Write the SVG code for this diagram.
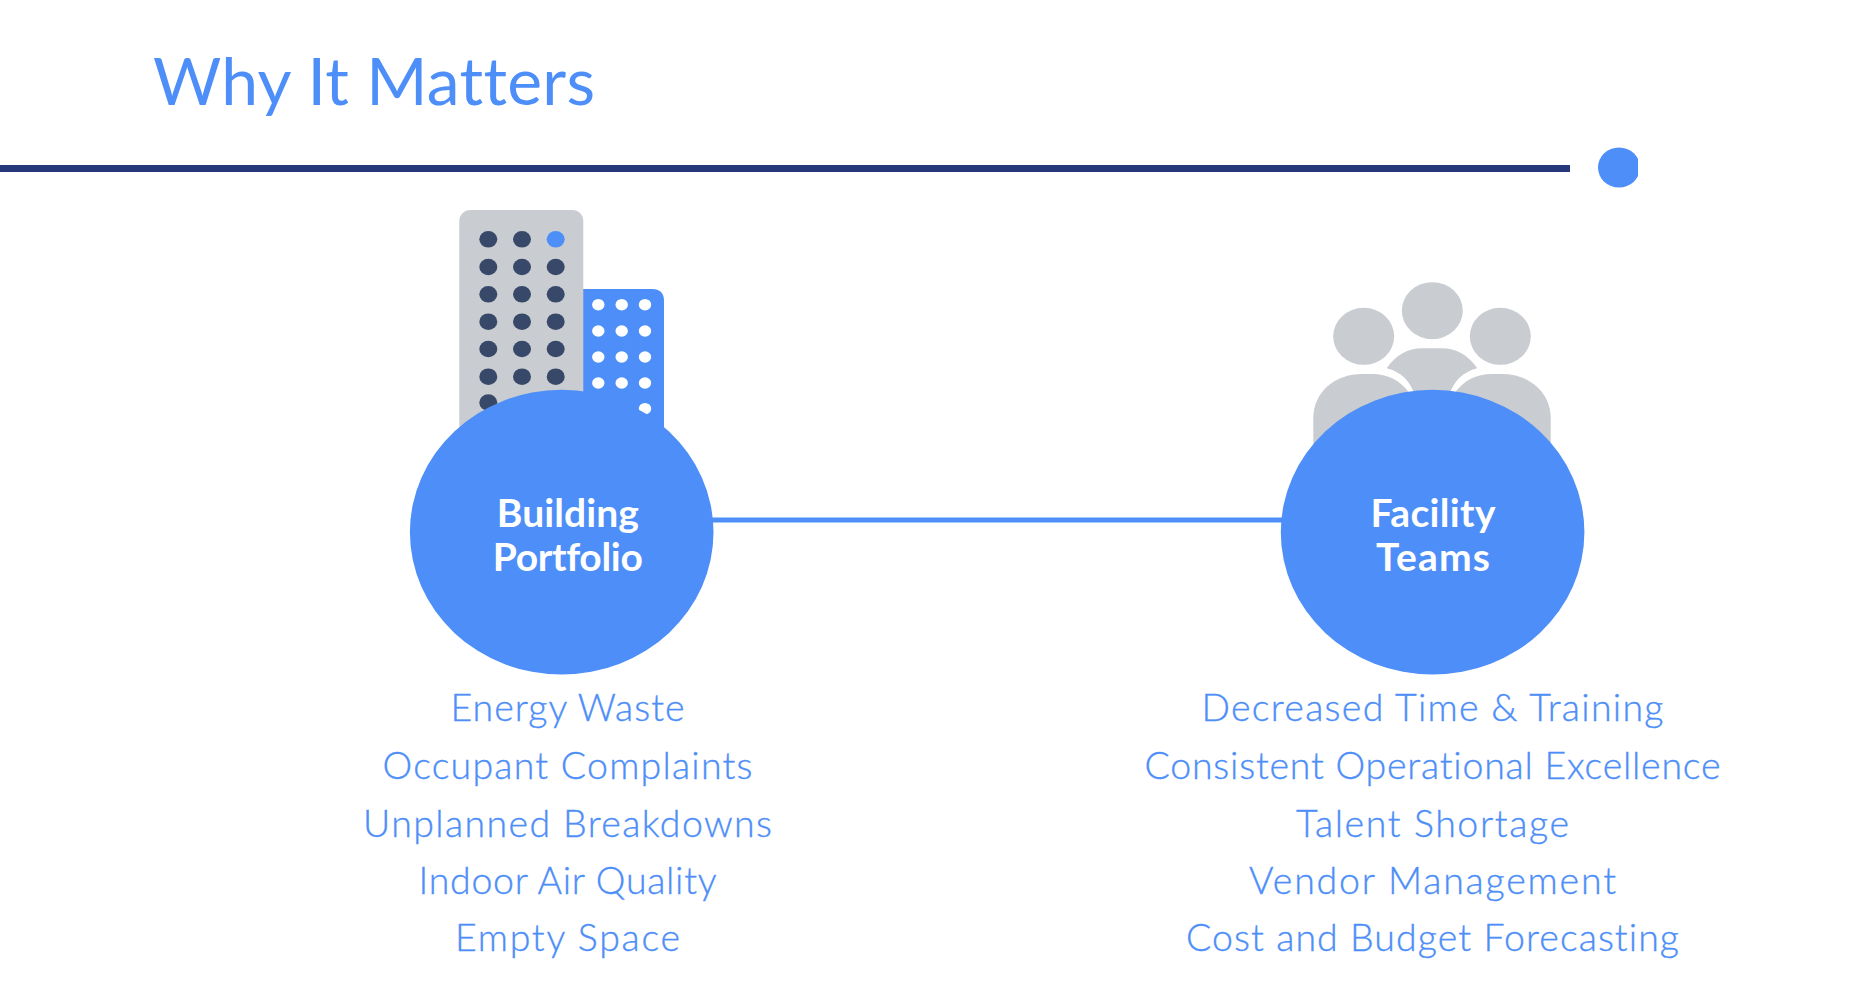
<svg xmlns="http://www.w3.org/2000/svg" width="1863" height="983" viewBox="0 0 1863 983">
<defs>
<clipPath id="dotclip"><rect x="1590" y="140" width="48" height="55"/></clipPath>
</defs>
<style>
.t{font-family:"Lato","Liberation Sans",sans-serif;fill:#4d8ef8;font-variant-ligatures:none}
.title{font-size:66px;font-weight:400}
.item{font-size:37.5px;font-weight:300;text-anchor:middle;stroke:#4d8ef8;stroke-width:.35px}
.label{font-family:"Lato","Liberation Sans",sans-serif;font-size:39px;font-weight:700;fill:#fff;text-anchor:middle;font-variant-ligatures:none}
.blue{fill:#4d8ef8}
.gray{fill:#c9ccd0}
.dk{fill:#374869}
.wh{fill:#fff}
</style>
<rect width="1863" height="983" fill="#fff"/>
<g id="header">
<text class="t title" x="153" y="104.5" textLength="442" lengthAdjust="spacing">Why It Matters</text>
<rect x="0" y="165" width="1570" height="7" fill="#26387a"/>
<ellipse class="blue" cx="1619" cy="167.5" rx="21" ry="20" clip-path="url(#dotclip)"/>
</g>
<g id="building-icon">
<path class="blue" d="M583 289H652Q664 289 664 301V460H583Z"/>
<rect class="gray" x="459.3" y="210" width="124" height="250" rx="11"/>
<g class="dk">
<ellipse cx="488.3" cy="239.3" rx="9" ry="8.3"/><ellipse cx="522" cy="239.3" rx="9" ry="8.3"/><ellipse class="blue" cx="555.7" cy="239.3" rx="9" ry="8.3"/>
<ellipse cx="488.3" cy="267" rx="9" ry="8.3"/><ellipse cx="522" cy="267" rx="9" ry="8.3"/><ellipse cx="555.7" cy="267" rx="9" ry="8.3"/>
<ellipse cx="488.3" cy="294.3" rx="9" ry="8.3"/><ellipse cx="522" cy="294.3" rx="9" ry="8.3"/><ellipse cx="555.7" cy="294.3" rx="9" ry="8.3"/>
<ellipse cx="488.3" cy="321.7" rx="9" ry="8.3"/><ellipse cx="522" cy="321.7" rx="9" ry="8.3"/><ellipse cx="555.7" cy="321.7" rx="9" ry="8.3"/>
<ellipse cx="488.3" cy="349" rx="9" ry="8.3"/><ellipse cx="522" cy="349" rx="9" ry="8.3"/><ellipse cx="555.7" cy="349" rx="9" ry="8.3"/>
<ellipse cx="488.3" cy="376.7" rx="9" ry="8.3"/><ellipse cx="522" cy="376.7" rx="9" ry="8.3"/><ellipse cx="555.7" cy="376.7" rx="9" ry="8.3"/>
<ellipse cx="488.3" cy="402.5" rx="9" ry="8.3"/>
</g>
<g class="wh">
<ellipse cx="598.3" cy="304.7" rx="6.2" ry="5.8"/><ellipse cx="621.7" cy="304.7" rx="6.2" ry="5.8"/><ellipse cx="645" cy="304.7" rx="6.2" ry="5.8"/>
<ellipse cx="598.3" cy="331" rx="6.2" ry="5.8"/><ellipse cx="621.7" cy="331" rx="6.2" ry="5.8"/><ellipse cx="645" cy="331" rx="6.2" ry="5.8"/>
<ellipse cx="598.3" cy="357" rx="6.2" ry="5.8"/><ellipse cx="621.7" cy="357" rx="6.2" ry="5.8"/><ellipse cx="645" cy="357" rx="6.2" ry="5.8"/>
<ellipse cx="598.3" cy="383" rx="6.2" ry="5.8"/><ellipse cx="621.7" cy="383" rx="6.2" ry="5.8"/><ellipse cx="645" cy="383" rx="6.2" ry="5.8"/>
<ellipse cx="645" cy="408.7" rx="6.2" ry="5.8"/>
</g>
</g>
<g id="people-icon" class="gray">
<ellipse cx="1432.3" cy="310.7" rx="30.5" ry="28.5"/>
<ellipse cx="1363.7" cy="336.3" rx="30.5" ry="28.5"/>
<ellipse cx="1500.3" cy="336.3" rx="30.5" ry="28.5"/>
<path d="M1313.3 460V418C1313.3 392 1335 374 1362 374H1372C1388 374 1400 380 1410 394V460Z"/>
<path d="M1550.7 460V418C1550.7 392 1529 374 1502 374H1492C1476 374 1464 380 1454 394V460Z"/>
<path d="M1386.7 368.3C1396 355 1408 348.3 1422 348.3H1442C1456 348.3 1468 355 1477.3 368.3C1463 372 1454 380 1449 396H1415C1410 380 1401 372 1386.7 368.3Z"/>
</g>
<g id="connectors">
<line x1="700" y1="520" x2="1295" y2="520" stroke="#4d8ef8" stroke-width="5"/>
</g>
<g id="building-portfolio">
<ellipse class="blue" cx="561.7" cy="532.2" rx="151.8" ry="142.4"/>
<text class="label" x="567.8" y="526.5" textLength="142">Building</text>
<text class="label" x="567.8" y="571" textLength="150">Portfolio</text>
</g>
<g id="facility-teams">
<ellipse class="blue" cx="1432.6" cy="532.2" rx="151.8" ry="142.4"/>
<text class="label" x="1433" y="526.5" textLength="125">Facility</text>
<text class="label" x="1433" y="571" textLength="114">Teams</text>
</g>
<g id="portfolio-list">
<text class="t item" x="567.5" y="721.2" textLength="234">Energy Waste</text>
<text class="t item" x="567.5" y="779.2" textLength="370">Occupant Complaints</text>
<text class="t item" x="567.5" y="836.5" textLength="409">Unplanned Breakdowns</text>
<text class="t item" x="567.5" y="894" textLength="298">Indoor Air Quality</text>
<text class="t item" x="567.5" y="951.2" textLength="225">Empty Space</text>
</g>
<g id="teams-list">
<text class="t item" x="1432.5" y="721.2" textLength="462">Decreased Time &amp; Training</text>
<text class="t item" x="1432.5" y="779.2" textLength="576">Consistent Operational Excellence</text>
<text class="t item" x="1432.5" y="836.5" textLength="273">Talent Shortage</text>
<text class="t item" x="1432.5" y="894" textLength="367">Vendor Management</text>
<text class="t item" x="1432.5" y="951.2" textLength="493">Cost and Budget Forecasting</text>
</g>
</svg>
